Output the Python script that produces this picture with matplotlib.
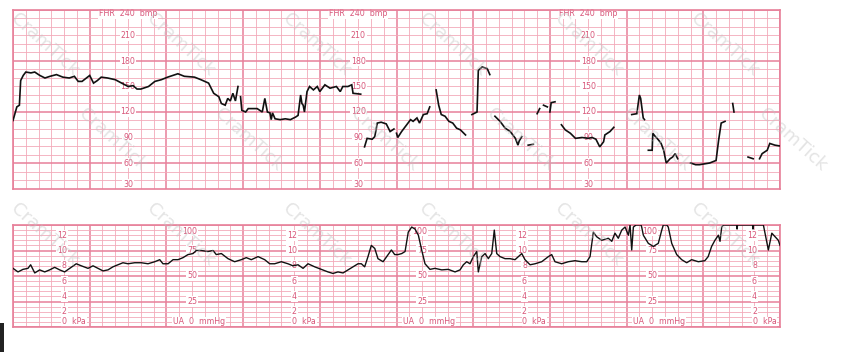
import numpy as np
import matplotlib
matplotlib.use("Agg")
import matplotlib.pyplot as plt
from matplotlib.patches import Rectangle

# ---------------- data ----------------
# FHR trace (time in seconds, bpm); NaN marks signal loss
nan = np.nan
fhr_t = [0, 3, 5, 6, 8, 10, 14, 17, 21, 25, 29, 34, 39, 44, 48, 51, 54, 60, 63, 66, 69, 74, 80, 85, 90, 94,
         97, 100, 106, 111, 116, 121, 129, 134, 142, 147, 153, 157, 161, 163, 166, 168, 170, 172, 174, 176,
         nan,
         178, 179, 182, 184, 191, 195, 197, 199, 201, 202, 203, 205, 209, 213, 217, 221, 223, 225, 226, 227,
         228, 230, 232, 235, 238, 240, 244, 248, 253, 256, 258, 262, 265, 266, 272,
         nan,
         275, 277, 281, 283, 285, 288, 292, 295, 298,
         nan,
         300, 301, 304, 308, 311, 313, 316, 318, 321, 324, 326,
         nan,
         331, 333, 335, 338, 341, 344, 347, 350, 354,
         nan,
         359, 363, 364, 367, 371, 373,
         nan,
         377, 381, 385, 389, 393, 395, 396, 398,
         nan,
         403, 407,
         nan,
         410, 412,
         nan,
         415, 418,
         nan,
         420, 421, 424,
         nan,
         429, 432, 436, 440, 445, 450, 453, 456, 459, 462, 463, 467, 470,
         nan,
         484, 488, 490, 491, 493, 494,
         nan,
         497, 500, 500.5, 502, 505, 507, 509, 511, 514, 516, 518, 520,
         nan,
         530, 534, 537, 541, 545, 550, 552, 554, 557,
         nan,
         563, 564,
         nan,
         575, 579,
         nan,
         584, 586, 590, 592, 596, 600]
fhr_bpm = [110, 126, 128, 157, 163, 167, 166, 167, 163, 160, 162, 164, 161, 160, 162, 156, 156, 163, 154, 157,
           161, 160, 158, 154, 150, 151, 147, 147, 150, 156, 158, 161, 165, 162, 161, 158, 154, 142, 138, 130,
           128, 136, 133, 142, 133, 150,
           nan,
           138, 122, 120, 124, 124, 120, 136, 120, 119, 111, 119, 112, 111, 112, 111, 114, 116, 140, 130, 128,
           120, 144, 150, 146, 150, 144, 152, 148, 150, 144, 150, 150, 152, 142, 141,
           nan,
           79, 89, 88, 91, 107, 108, 106, 97, 100,
           nan,
           95, 90, 97, 105, 111, 109, 113, 107, 117, 118, 126,
           nan,
           146, 128, 117, 115, 109, 107, 101, 99, 93,
           nan,
           117, 120, 169, 173, 171, 164,
           nan,
           115, 109, 101, 97, 89, 81, 86, 91,
           nan,
           81, 82,
           nan,
           118, 124,
           nan,
           128, 126,
           nan,
           120, 131, 132,
           nan,
           105, 99, 95, 89, 90, 89, 90, 88, 79, 85, 93, 97, 102,
           nan,
           117, 118, 140, 136, 113, 111,
           nan,
           75, 75, 95, 92, 87, 83, 75, 60, 65, 67, 71, 65,
           nan,
           60, 58, 58, 59, 60, 63, 87, 107, 109,
           nan,
           130, 120,
           nan,
           67, 65,
           nan,
           65, 71, 75, 83, 81, 80]

# Uterine activity (time in seconds, mmHg)
ua_t = [0, 3.9, 7.8, 11.7, 13.8, 17.0, 20.9, 24.8, 28.7, 32.6, 36.5, 40.4, 44.4, 49.5, 53.4, 58.7, 62.6,
        66.5, 70.4, 74.3, 78.2, 82.1, 86.0, 90.0, 95.2, 100.4, 105.6, 110.9, 114.8, 117.3, 121.3, 125.2,
        129.1, 133.0, 136.9, 140.8, 143.4, 147.3, 152.5, 156.5, 159.0, 163.0, 168.2, 173.4, 178.6, 182.5,
        186.4, 191.7, 196.9, 200.8, 204.7, 209.9, 215.1, 219.0, 223.0, 226.9, 230.8, 236.0, 241.2, 246.4,
        250.3, 254.2, 258.2, 262.1, 266.0, 269.9, 272.5, 275.1, 277.7, 280.3, 283.0, 285.5, 289.5, 293.4,
        296.0, 298.6, 301.2, 304.1, 306.7, 309.2, 311.9, 314.5, 317.1, 319.7, 322.3, 326.2, 330.1, 335.4,
        340.5, 345.8, 349.7, 352.3, 354.9, 357.5, 360.1, 362.8, 364.0, 366.7, 369.3, 371.8, 374.5, 376.5,
        378.4, 381.0, 384.9, 388.8, 392.7, 395.3, 398.0, 400.5, 404.5, 408.4, 413.6, 418.8, 421.4, 424.0,
        429.2, 434.4, 439.6, 444.9, 448.8, 451.4, 454.0, 456.6, 460.5, 465.7, 468.4, 470.9, 473.5, 476.2,
        478.8, 481.4, 482.7, 484.0, 485.3, 487.4, 491.3, 491.8, 493.1, 497.0, 500.9, 504.8, 507.5, 508.7,
        511.4, 512.6, 515.3, 519.2, 523.1, 527.0, 530.9, 536.1, 541.2, 543.8, 546.5, 549.1, 551.8, 553.1,
        554.4, 555.7, 566.0, 566.4, 566.8, 578.5, 578.9, 579.3, 587.0, 588.3, 590.9, 593.6, 596.1, 598.7,
        600.0]
ua_mmhg = [57.5, 54, 56.5, 57.5, 61, 53, 56, 54, 56, 58.5, 56, 54, 57.5, 62, 60, 57.5, 60, 57.5, 55, 56, 59,
           61, 63, 62, 63, 63, 62, 64, 66, 62, 62, 66, 66, 68, 71, 72, 75, 75, 74, 75, 71, 72, 67, 64, 66, 68,
           66, 69, 66, 62, 62, 64, 62, 60, 61, 57.5, 62, 59, 56.5, 54, 52.5, 54, 53, 56, 59, 62, 62, 59, 69,
           80, 77, 67, 64, 71, 75.5, 71, 71, 72, 74, 93, 98, 96, 90, 75.5, 62, 56.5, 57.5, 56, 56.5, 54, 56,
           61, 64, 62, 69, 74, 54, 69, 72, 67, 72, 95, 72, 69, 67, 67, 66, 69, 72, 66, 61, 62, 64, 69, 71, 64,
           62, 64, 65, 64, 64, 69, 93, 88.5, 85, 87, 84, 92, 87, 95, 98, 90, 100, 75.5, 98, 100, 100, 98, 90,
           82, 79, 82, 95, 100, 100, 98, 82, 71, 66, 63, 66, 64, 65, 69, 79, 85, 90, 84, 98, 100, 100, 96,
           100, 100, 96, 100, 100, 92, 75.5, 92, 88.5, 85, 80]

# Scale labels
fhr_labels = [210, 180, 150, 120, 90, 60, 30]
kpa_labels = [12, 10, 8, 6, 4, 2]
mmhg_labels = [100, 75, 50, 25]
fhr_label_cols = [90, 270, 450]
kpa_label_cols = [42, 222, 402, 582]
mmhg_label_cols = [144, 324, 504]
watermark = "CramTick"

# ---------------- style ----------------
MINOR = "#f3a9b9"
MAJOR = "#e7809a"
TXT = "#d8577a"
W, H = 846, 352

fig = plt.figure(figsize=(W / 100, H / 100), dpi=100)
fig.patch.set_facecolor("white")

ax1 = fig.add_axes([13 / W, 1 - 188.5 / H, 767 / W, 178.5 / H])
ax2 = fig.add_axes([13 / W, 1 - 327 / H, 767 / W, 102 / H])


def paper(ax, ymin, ymax, ymajor, yminor):
    ax.set_xlim(0, 600)
    ax.set_ylim(ymin, ymax)
    ax.set_xticks(np.arange(0, 601, 60))
    ax.set_xticks(np.arange(0, 601, 10), minor=True)
    ax.set_yticks(np.arange(ymin, ymax + 0.1, ymajor))
    ax.set_yticks(np.arange(ymin, ymax + 0.1, yminor), minor=True)
    ax.grid(which="minor", color=MINOR, lw=0.6)
    ax.grid(which="major", color=MAJOR, lw=1.1)
    ax.tick_params(which="both", length=0, labelbottom=False, labelleft=False)
    for s in ax.spines.values():
        s.set_color(MAJOR)
        s.set_linewidth(1.2)
    ax.set_axisbelow(True)


paper(ax1, 30, 240, 60, 10)
ax1.set_yticks([240, 180, 120, 60])
paper(ax2, 0, 100, 25, 5)

bb = dict(facecolor="white", edgecolor="none", pad=0.6)
fs = 5.7

for c in fhr_label_cols:
    ax1.text(c, 235.5, "FHR  240  bmp", ha="center", va="center", fontsize=fs, color=TXT, bbox=bb, zorder=2)
    for v in fhr_labels:
        yy = v if v > 30 else 35
        ax1.text(c, yy, str(v), ha="center", va="center", fontsize=fs, color=TXT, bbox=bb, zorder=2)

for c in kpa_label_cols:
    for v in kpa_labels:
        ax2.text(c, v * 7.5, str(v), ha="right", va="center", fontsize=fs, color=TXT, bbox=bb, zorder=2)
    ax2.text(c - 3.5, 5, "0  kPa", ha="left", va="center", fontsize=fs, color=TXT, bbox=bb, zorder=2)

for c in mmhg_label_cols:
    for v in mmhg_labels:
        yy = v if v < 100 else 94
        ax2.text(c, yy, str(v), ha="right", va="center", fontsize=fs, color=TXT, bbox=bb, zorder=2)
    ax2.text(c - 19, 5, "UA  0  mmHg", ha="left", va="center", fontsize=fs, color=TXT, bbox=bb, zorder=2)

ax1.plot(fhr_t, fhr_bpm, color="#111111", lw=1.2, zorder=3, solid_joinstyle="miter")
ax2.plot(ua_t, ua_mmhg, color="#111111", lw=1.0, zorder=3)

# watermark tiles, kept fully inside the image
for j, yp in enumerate(range(45, 330, 95)):
    for xp in range(45 + (j % 2) * 68, 810, 136):
        fig.text(xp / W, 1 - yp / H, watermark, rotation=-42, fontsize=13,
                 color="#c4c4c4", alpha=0.45, ha="center", va="center", zorder=10)

fig.patches.append(Rectangle((0, 0), 4 / W, 29 / H, transform=fig.transFigure,
                             facecolor="#222222", edgecolor="none"))

fig.savefig("out.png", dpi=100)
